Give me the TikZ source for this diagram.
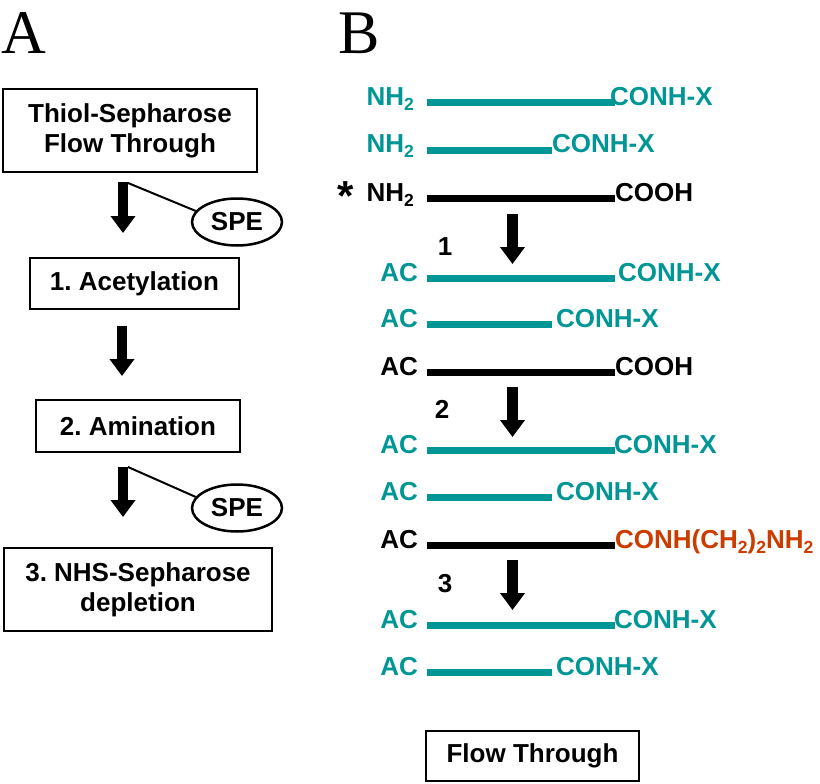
\documentclass[tikz,border=0pt]{standalone}
\usepackage{fontspec}
\setmainfont{Liberation Sans}
\newfontfamily\labelserif{Liberation Serif}
\usetikzlibrary{arrows.meta,shapes.geometric}
\definecolor{tealc}{RGB}{0,150,150}
\definecolor{orangec}{RGB}{204,60,0}
\newcommand\chsub[1]{\raisebox{-5pt}{\fontsize{17.5}{17.5}\selectfont #1}}
\frenchspacing
\begin{document}
\begin{tikzpicture}[x=1pt,y=-1pt,
  every node/.style={font=\fontsize{26}{30}\selectfont\bfseries, inner sep=0pt},
  box/.style={draw, line width=2.5pt, align=center},
  spe/.style={draw, ellipse, line width=2.5pt, minimum width=90pt, minimum height=47pt},
  bigarrow/.style={line width=10pt, -{Triangle[length=17pt,width=24pt]}},
  rarrow/.style={line width=11pt, -{Triangle[length=17pt,width=24pt]}},
  bar/.style={line width=7pt},
  lab/.style={anchor=base east},
  rlab/.style={anchor=base west},
  num/.style={anchor=base},
  panel/.style={font=\fontsize{62}{62}\selectfont\labelserif, anchor=base west},
  speline/.style={line width=2pt},
]
\useasboundingbox (0,0) rectangle (820,784);

% panel labels
\node[panel] (pA) at (1,54) {A};
\node[panel] (pB) at (338,54) {B};

% ---- Panel A ----
\node[box, minimum width=254pt, minimum height=83pt] (b1) at (130,130.5) {Thiol-Sepharose\\Flow Through};
\node[box, minimum width=209pt, minimum height=51pt] (b2) at (134.5,283.5) {1. Acetylation};
\node[box, minimum width=204pt, minimum height=52pt] (b3) at (138,426) {2. Amination};
\node[box, minimum width=268pt, minimum height=83pt] (b4) at (138,589.5) {3. NHS-Sepharose\\depletion};
\node[spe] (s1) at (237,222) {SPE};
\node[spe] (s2) at (237,508) {SPE};

\coordinate (a1s) at (123,182); \coordinate (a1e) at (123,233);
\coordinate (a2s) at (122,326); \coordinate (a2e) at (122,376);
\coordinate (a3s) at (123,467); \coordinate (a3e) at (123,517);
\draw[bigarrow] (a1s) -- (a1e);
\draw[bigarrow] (a2s) -- (a2e);
\draw[bigarrow] (a3s) -- (a3e);
\coordinate (k1) at (128,183);
\coordinate (k2) at (128,467);
\draw[speline] (k1) -- (s1.165);
\draw[speline] (k2) -- (s2.165);

% ---- Panel B ----
% row 1
\node[lab, text=tealc] (l1) at (414,106) {NH\chsub{2}};
\coordinate (p1s) at (427,103); \coordinate (p1e) at (615,103);
\draw[bar, tealc] (p1s) -- (p1e);
\node[rlab, text=tealc] (r1) at (610,106) {CONH-X};
% row 2
\node[lab, text=tealc] (l2) at (414,153) {NH\chsub{2}};
\coordinate (p2s) at (427,150); \coordinate (p2e) at (552,150);
\draw[bar, tealc] (p2s) -- (p2e);
\node[rlab, text=tealc] (r2) at (552,153) {CONH-X};
% row 3
\node[font=\fontsize{42}{42}\selectfont\bfseries, anchor=base] (ast) at (346,210) {*};
\node[lab] (l3) at (414,201) {NH\chsub{2}};
\coordinate (p3s) at (427,198); \coordinate (p3e) at (615,198);
\draw[bar] (p3s) -- (p3e);
\node[rlab] (r3) at (615,201) {COOH};
% arrow 1
\node[num] (n1) at (445,255) {1};
\coordinate (q1s) at (512.5,214); \coordinate (q1e) at (512.5,264);
\draw[rarrow] (q1s) -- (q1e);
% row 4
\node[lab, text=tealc] (l4) at (418,281) {AC};
\coordinate (p4s) at (427,278); \coordinate (p4e) at (615,278);
\draw[bar, tealc] (p4s) -- (p4e);
\node[rlab, text=tealc] (r4) at (618,281) {CONH-X};
% row 5
\node[lab, text=tealc] (l5) at (418,327) {AC};
\coordinate (p5s) at (427,324); \coordinate (p5e) at (552,324);
\draw[bar, tealc] (p5s) -- (p5e);
\node[rlab, text=tealc] (r5) at (556,327) {CONH-X};
% row 6
\node[lab] (l6) at (418,375) {AC};
\coordinate (p6s) at (427,372); \coordinate (p6e) at (615,372);
\draw[bar] (p6s) -- (p6e);
\node[rlab] (r6) at (615,375) {COOH};
% arrow 2
\node[num] (n2) at (442,418) {2};
\coordinate (q2s) at (512.5,387); \coordinate (q2e) at (512.5,437);
\draw[rarrow] (q2s) -- (q2e);
% row 7
\node[lab, text=tealc] (l7) at (418,453) {AC};
\coordinate (p7s) at (427,450); \coordinate (p7e) at (615,450);
\draw[bar, tealc] (p7s) -- (p7e);
\node[rlab, text=tealc] (r7) at (614,453) {CONH-X};
% row 8
\node[lab, text=tealc] (l8) at (418,500) {AC};
\coordinate (p8s) at (427,497); \coordinate (p8e) at (552,497);
\draw[bar, tealc] (p8s) -- (p8e);
\node[rlab, text=tealc] (r8) at (556,500) {CONH-X};
% row 9
\node[lab] (l9) at (418,548) {AC};
\coordinate (p9s) at (427,545); \coordinate (p9e) at (615,545);
\draw[bar] (p9s) -- (p9e);
\node[rlab, text=orangec] (r9) at (615,548) {CONH(CH\chsub{2})\chsub{2}NH\chsub{2}};
% arrow 3
\node[num] (n3) at (445,592) {3};
\coordinate (q3s) at (512.5,560); \coordinate (q3e) at (512.5,610);
\draw[rarrow] (q3s) -- (q3e);
% row 10
\node[lab, text=tealc] (l10) at (418,628) {AC};
\coordinate (p10s) at (427,625); \coordinate (p10e) at (615,625);
\draw[bar, tealc] (p10s) -- (p10e);
\node[rlab, text=tealc] (r10) at (614,628) {CONH-X};
% row 11
\node[lab, text=tealc] (l11) at (418,675) {AC};
\coordinate (p11s) at (427,672); \coordinate (p11e) at (552,672);
\draw[bar, tealc] (p11s) -- (p11e);
\node[rlab, text=tealc] (r11) at (556,675) {CONH-X};

% flow through
\node[box, minimum width=213pt, minimum height=50pt] (ft) at (532.5,756) {Flow Through};
\end{tikzpicture}
\end{document}
